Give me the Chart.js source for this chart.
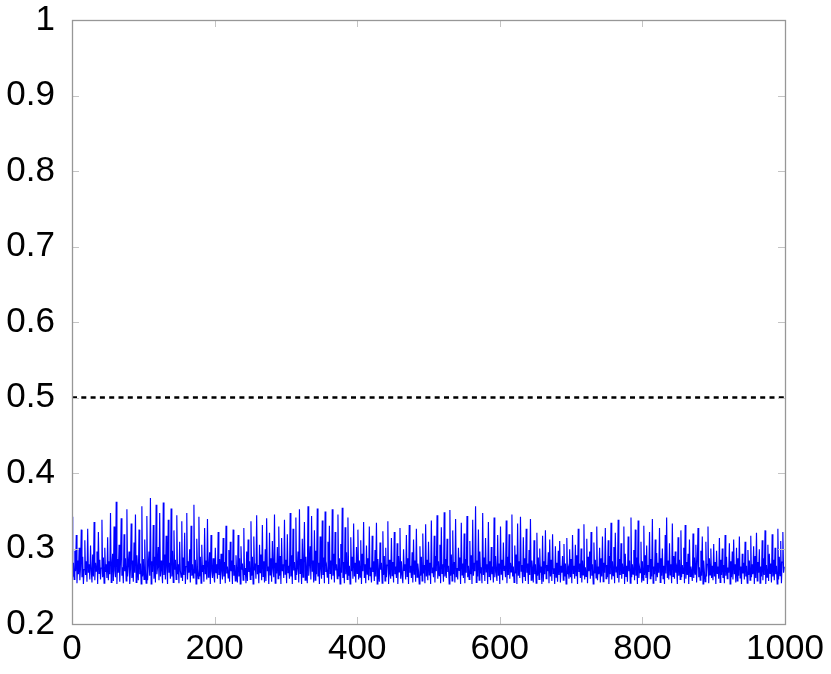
<!DOCTYPE html>
<html>
<head>
<meta charset="utf-8">
<script src="https://cdn.jsdelivr.net/npm/chart.js@4/dist/chart.umd.min.js"></script>
<style>
html,body{margin:0;padding:0;background:#fff;}
#wrap{width:831px;height:674px;position:relative;}
</style>
</head>
<body>
<div id="wrap"><canvas id="c" width="831" height="674"></canvas></div>
<script>
// Series values (one value per step, 1000 steps)
const seriesValues = [
0.342,0.262,0.281,0.259,0.297,0.270,0.318,0.254,0.284,0.266,0.301,0.258,0.276,0.325,0.262,0.289,0.253,0.272,0.311,0.265,0.283,0.256,0.326,0.268,0.279,0.259,0.304,0.271,0.255,0.292,0.263,0.335,0.258,0.281,0.270,0.296,0.253,0.322,0.267,0.285,0.259,0.274,0.338,0.262,0.288,0.254,0.301,0.269,0.279,0.261,
0.315,0.258,0.283,0.266,0.347,0.255,0.277,0.293,0.257,0.329,0.271,0.262,0.362,0.253,0.286,0.268,0.305,0.256,0.281,0.340,0.264,0.275,0.254,0.319,0.270,0.287,0.257,0.352,0.263,0.279,0.296,0.253,0.273,0.333,0.261,0.284,0.256,0.308,0.268,0.345,0.255,0.291,0.272,0.258,0.325,0.266,0.280,0.253,0.356,0.263,
0.286,0.259,0.312,0.270,0.254,0.343,0.258,0.278,0.296,0.264,0.367,0.253,0.283,0.269,0.331,0.260,0.289,0.255,0.358,0.266,0.275,0.302,0.258,0.347,0.263,0.284,0.271,0.254,0.361,0.265,0.292,0.259,0.317,0.274,0.253,0.338,0.268,0.281,0.260,0.353,0.263,0.297,0.255,0.324,0.272,0.285,0.259,0.344,0.266,0.279,
0.254,0.309,0.270,0.262,0.336,0.257,0.288,0.265,0.321,0.253,0.276,0.347,0.259,0.283,0.268,0.299,0.255,0.330,0.264,0.279,0.261,0.358,0.267,0.285,0.253,0.313,0.272,0.260,0.342,0.263,0.289,0.254,0.305,0.269,0.278,0.256,0.327,0.266,0.284,0.259,0.339,0.262,0.274,0.295,0.253,0.318,0.270,0.261,0.287,0.264,
0.255,0.301,0.268,0.279,0.260,0.322,0.265,0.286,0.253,0.293,0.271,0.259,0.314,0.263,0.282,0.254,0.330,0.267,0.276,0.261,0.298,0.256,0.309,0.270,0.284,0.253,0.325,0.264,0.278,0.257,0.291,0.268,0.255,0.318,0.263,0.287,0.253,0.303,0.272,0.280,0.258,0.327,0.265,0.274,0.254,0.296,0.257,0.312,0.269,0.283,
0.259,0.336,0.264,0.289,0.253,0.316,0.271,0.280,0.260,0.344,0.266,0.278,0.254,0.305,0.268,0.292,0.258,0.331,0.263,0.283,0.255,0.299,0.257,0.340,0.270,0.276,0.253,0.321,0.265,0.287,0.256,0.310,0.273,0.262,0.345,0.254,0.281,0.267,0.302,0.260,0.329,0.264,0.290,0.253,0.314,0.270,0.279,0.261,0.338,0.266,
0.285,0.254,0.319,0.268,0.277,0.260,0.347,0.263,0.291,0.253,0.326,0.271,0.282,0.259,0.341,0.265,0.274,0.296,0.255,0.352,0.267,0.286,0.253,0.313,0.262,0.280,0.335,0.258,0.289,0.269,0.254,0.356,0.264,0.278,0.303,0.259,0.343,0.270,0.284,0.255,0.324,0.258,0.297,0.266,0.353,0.263,0.281,0.253,0.316,0.272,
0.260,0.337,0.265,0.288,0.254,0.349,0.269,0.276,0.262,0.309,0.253,0.330,0.267,0.284,0.259,0.352,0.264,0.293,0.255,0.322,0.271,0.279,0.260,0.345,0.263,0.287,0.253,0.306,0.268,0.354,0.261,0.282,0.254,0.328,0.266,0.295,0.259,0.341,0.264,0.277,0.253,0.315,0.270,0.289,0.260,0.333,0.263,0.281,0.255,0.302,
0.267,0.325,0.259,0.284,0.262,0.311,0.253,0.293,0.270,0.335,0.261,0.279,0.254,0.304,0.266,0.287,0.258,0.329,0.264,0.275,0.255,0.317,0.269,0.283,0.257,0.298,0.263,0.334,0.253,0.286,0.268,0.256,0.308,0.272,0.281,0.254,0.323,0.265,0.290,0.257,0.301,0.262,0.278,0.336,0.253,0.285,0.267,0.260,0.314,0.264,
0.282,0.255,0.322,0.266,0.276,0.261,0.307,0.253,0.290,0.269,0.327,0.260,0.283,0.264,0.254,0.299,0.271,0.279,0.259,0.318,0.263,0.287,0.253,0.331,0.268,0.277,0.261,0.295,0.255,0.312,0.266,0.284,0.256,0.326,0.262,0.280,0.270,0.253,0.303,0.264,0.289,0.257,0.320,0.267,0.278,0.254,0.332,0.263,0.285,0.258,
0.309,0.265,0.281,0.253,0.337,0.268,0.275,0.262,0.317,0.255,0.290,0.270,0.344,0.260,0.283,0.264,0.305,0.254,0.328,0.267,0.279,0.256,0.348,0.263,0.286,0.261,0.313,0.269,0.277,0.253,0.351,0.264,0.292,0.257,0.324,0.266,0.282,0.255,0.339,0.262,0.274,0.259,0.301,0.271,0.288,0.253,0.334,0.265,0.280,0.261,
0.320,0.254,0.286,0.268,0.343,0.262,0.277,0.259,0.310,0.266,0.291,0.253,0.338,0.264,0.281,0.270,0.356,0.255,0.284,0.263,0.325,0.258,0.296,0.267,0.275,0.254,0.347,0.265,0.288,0.257,0.314,0.269,0.279,0.253,0.335,0.263,0.283,0.258,0.302,0.266,0.276,0.255,0.341,0.262,0.290,0.268,0.257,0.318,0.264,0.280,
0.253,0.329,0.266,0.285,0.258,0.308,0.271,0.277,0.262,0.337,0.254,0.289,0.265,0.319,0.260,0.281,0.269,0.345,0.263,0.276,0.255,0.304,0.267,0.292,0.253,0.333,0.264,0.283,0.261,0.342,0.270,0.278,0.254,0.315,0.263,0.287,0.257,0.326,0.268,0.280,0.253,0.298,0.265,0.339,0.258,0.284,0.272,0.255,0.311,0.266,
0.279,0.254,0.321,0.264,0.288,0.259,0.300,0.268,0.276,0.253,0.317,0.256,0.283,0.266,0.324,0.260,0.278,0.270,0.295,0.254,0.312,0.263,0.285,0.257,0.319,0.267,0.274,0.253,0.303,0.262,0.281,0.256,0.297,0.265,0.310,0.255,0.277,0.268,0.290,0.258,0.306,0.263,0.280,0.253,0.314,0.266,0.273,0.260,0.299,0.262,
0.286,0.254,0.318,0.267,0.277,0.260,0.305,0.264,0.291,0.253,0.326,0.269,0.280,0.261,0.300,0.255,0.284,0.265,0.332,0.259,0.275,0.263,0.313,0.254,0.289,0.270,0.296,0.260,0.322,0.264,0.279,0.253,0.308,0.267,0.285,0.261,0.329,0.258,0.276,0.266,0.301,0.255,0.287,0.263,0.316,0.256,0.281,0.268,0.327,0.260,
0.278,0.262,0.311,0.253,0.290,0.266,0.334,0.259,0.283,0.264,0.302,0.254,0.321,0.269,0.276,0.261,0.338,0.255,0.286,0.265,0.307,0.260,0.280,0.267,0.329,0.253,0.293,0.263,0.277,0.256,0.316,0.270,0.284,0.254,0.341,0.262,0.279,0.266,0.298,0.258,0.325,0.264,0.288,0.253,0.337,0.261,0.275,0.268,0.309,0.255,
0.283,0.258,0.330,0.265,0.291,0.261,0.304,0.253,0.278,0.269,0.322,0.260,0.286,0.263,0.339,0.254,0.276,0.266,0.312,0.257,0.294,0.262,0.281,0.268,0.327,0.255,0.287,0.264,0.300,0.260,0.277,0.253,0.318,0.267,0.341,0.261,0.284,0.259,0.307,0.265,0.279,0.254,0.333,0.263,0.290,0.260,0.296,0.268,0.274,0.253,
0.315,0.264,0.285,0.259,0.324,0.262,0.278,0.267,0.301,0.254,0.331,0.260,0.282,0.265,0.293,0.253,0.312,0.263,0.276,0.269,0.257,0.320,0.261,0.288,0.266,0.305,0.255,0.280,0.327,0.262,0.275,0.258,0.297,0.264,0.316,0.253,0.284,0.268,0.256,0.309,0.263,0.279,0.329,0.254,0.287,0.265,0.300,0.261,0.277,0.258,
0.306,0.263,0.282,0.253,0.297,0.267,0.276,0.260,0.314,0.255,0.285,0.265,0.300,0.261,0.278,0.254,0.318,0.264,0.289,0.260,0.275,0.268,0.307,0.253,0.283,0.262,0.296,0.259,0.312,0.266,0.279,0.255,0.301,0.257,0.287,0.264,0.316,0.261,0.276,0.253,0.293,0.267,0.281,0.259,0.309,0.263,0.277,0.254,0.298,0.265,
0.284,0.258,0.317,0.262,0.279,0.266,0.303,0.253,0.290,0.261,0.321,0.257,0.282,0.268,0.299,0.254,0.276,0.263,0.311,0.258,0.287,0.265,0.324,0.253,0.278,0.262,0.305,0.257,0.293,0.267,0.280,0.255,0.319,0.263,0.285,0.258,0.301,0.266,0.277,0.253,0.326,0.259,0.289,0.264,0.310,0.254,0.282,0.322,0.268,0.276
];
const thresholdValue = 0.5;
const xRange = [0, 1000];
const xTickValues = [0, 200, 400, 600, 800, 1000];
const yTickValues = [0.2, 0.3, 0.4, 0.5, 0.6, 0.7, 0.8, 0.9, 1];

const seriesPoints = seriesValues.map((v, i) => ({x: i, y: v}));
const thresholdPoints = [{x: xRange[0], y: thresholdValue}, {x: xRange[1], y: thresholdValue}];

const FONT = {family: '"Liberation Sans", Arial, sans-serif', size: 35};

const framePlugin = {
  id: 'frame',
  afterDatasetsDraw(chart) {
    const {ctx, chartArea: a, scales} = chart;
    ctx.save();
    ctx.strokeStyle = '#c4c4c4';
    ctx.lineWidth = 1;
    ctx.beginPath();
    const TL = 7;
    yTickValues.forEach(v => {
      const y = Math.round(scales.y.getPixelForValue(v)) + 0.5;
      ctx.moveTo(a.left, y); ctx.lineTo(a.left + TL, y);
      ctx.moveTo(a.right, y); ctx.lineTo(a.right - TL, y);
    });
    xTickValues.forEach(v => {
      const x = Math.round(scales.x.getPixelForValue(v)) + 0.5;
      ctx.moveTo(x, a.bottom); ctx.lineTo(x, a.bottom - TL);
      ctx.moveTo(x, a.top); ctx.lineTo(x, a.top + TL);
    });
    ctx.stroke();
    ctx.strokeStyle = '#979797';
    ctx.lineWidth = 1.3;
    ctx.strokeRect(Math.round(a.left) + 0.5, Math.round(a.top) + 0.5,
                   Math.round(a.right - a.left), Math.round(a.bottom - a.top));
    ctx.restore();
  }
};

new Chart(document.getElementById('c'), {
  type: 'line',
  data: {
    datasets: [
      {data: seriesPoints, borderColor: '#0000ff', borderWidth: 1.15, pointRadius: 0, tension: 0, fill: false},
      {data: thresholdPoints, borderColor: '#000000', borderWidth: 2.6, borderDash: [5, 4.3], pointRadius: 0, fill: false}
    ]
  },
  options: {
    responsive: false,
    animation: false,
    events: [],
    layout: {padding: {top: 20, right: 46, left: 0, bottom: 0}},
    plugins: {legend: {display: false}, tooltip: {enabled: false}},
    scales: {
      x: {
        type: 'linear', min: xRange[0], max: xRange[1],
        grid: {display: false, drawTicks: false}, border: {display: false},
        afterBuildTicks: s => { s.ticks = xTickValues.map(v => ({value: v})); },
        afterFit: s => { s.height = 50; s.paddingLeft = 0; s.paddingRight = 0; },
        ticks: {font: FONT, color: '#000', padding: 4, maxRotation: 0, autoSkip: false,
                callback: v => String(v)}
      },
      y: {
        type: 'linear', min: yTickValues[0], max: yTickValues[yTickValues.length - 1],
        grid: {display: false, drawTicks: false}, border: {display: false},
        afterBuildTicks: s => { s.ticks = yTickValues.map(v => ({value: v})); },
        afterFit: s => { s.width = 72; s.paddingTop = 0; s.paddingBottom = 0; },
        ticks: {font: FONT, color: '#000', padding: 17, autoSkip: false,
                callback: v => String(Number(v.toFixed(1)))}
      }
    }
  },
  plugins: [framePlugin]
});
</script>
</body>
</html>
